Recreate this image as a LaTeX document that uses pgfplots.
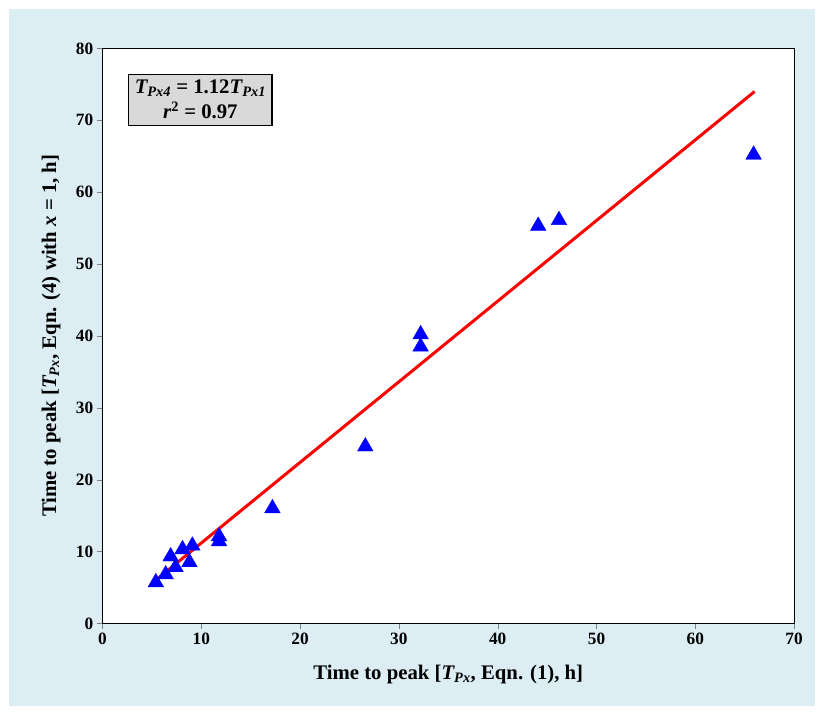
\documentclass[border=0pt]{standalone}
\usepackage{pgfplots}
\pgfplotsset{compat=1.18}
\usepackage{fontspec}
\setmainfont{Liberation Serif}
\definecolor{bgb}{HTML}{DCEEF3}
\begin{document}
\bfseries
\begin{tikzpicture}
\fill[white] (-3.6cm,-3.2cm) rectangle (25.35cm,21.9cm);
\fill[bgb] (-3.3cm,-2.9cm) rectangle (25.05cm,21.6cm);
\begin{axis}[
 width=24.3cm, height=20.2cm, scale only axis,
 axis background/.style={fill=white},
 xmin=0,xmax=70,ymin=0,ymax=80,
 xtick={0,10,...,70}, ytick={0,10,...,80},
 tick align=outside, tick pos=left, major tick length=0.2cm,
 ticklabel style={font=\LARGE\bfseries},
 /pgf/number format/assume math mode=true,
 axis line style={line width=1.2pt},
 xlabel style={yshift=-0.5cm},
 ylabel style={yshift=0.3cm},
 xlabel={\huge\bfseries Time to peak [\textit{T\textsubscript{Px}}, Eqn. (1), h]},
 ylabel={\huge\bfseries Time to peak [\textit{T\textsubscript{Px}}, Eqn. (4) with \textit{x} = 1, h]},
]
\addplot[only marks, mark=triangle*, mark size=9pt, color=blue] coordinates {
(5.4,5.7)(6.4,6.8)(6.9,9.3)(7.4,7.8)(8.1,10.3)(8.8,8.5)(9.1,10.8)(11.8,12.1)(11.8,11.4)
(17.2,16.0)(26.6,24.6)(32.2,40.2)(32.2,38.5)(44.1,55.3)(46.2,56.1)(65.9,65.2)};
\addplot[red, line width=3pt] coordinates {(5.3,5.9) (66,74)};
\node[draw, line width=1.2pt, fill=gray!30, align=center, font=\huge\bfseries, anchor=north west, inner sep=6pt]
 at (axis cs:2.6,76.5) {\textit{T\textsubscript{Px4}} = 1.12\textit{T\textsubscript{Px1}}\\\textit{r}\textsuperscript{2} = 0.97};
\end{axis}
\end{tikzpicture}
\end{document}
